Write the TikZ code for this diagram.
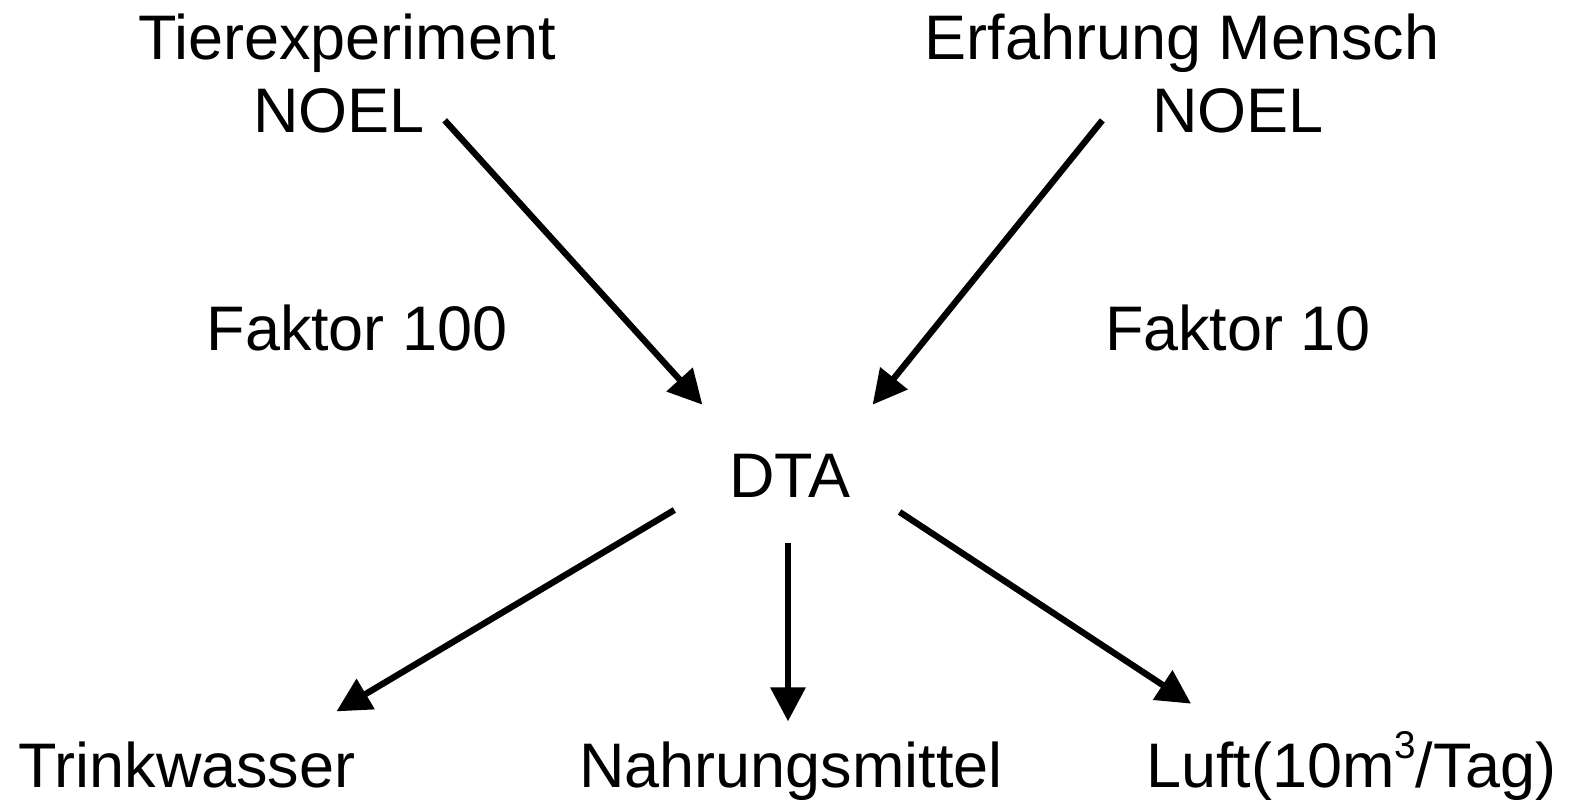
\documentclass[tikz,border=0pt]{standalone}
\usepackage{fontspec}
\setmainfont{Liberation Sans}
\usetikzlibrary{arrows.meta}
\tikzset{
    lbl/.style={inner sep=0pt, outer sep=0pt, anchor=base, font=\fontsize{17.9}{21}\selectfont},
    arr/.style={line width=1.8pt, -{Triangle[length=0.34cm,width=0.34cm]}}
}
\begin{document}
\begin{tikzpicture}[x=0.01cm,y=-0.01cm]
    \useasboundingbox (0,0) rectangle (1569,800);
    % sources
    \node[lbl] (tier)  at (347,60)  {Tierexperiment};
    \node[lbl] (noelA) at (339,132) {NOEL};
    \node[lbl] (erf)   at (1182,60) {Erfahrung Mensch};
    \node[lbl] (noelB) at (1238,132) {NOEL};
    \node[lbl] (fak100) at (357,350) {Faktor 100};
    \node[lbl] (fak10)  at (1238,350) {Faktor 10};
    \node[lbl] (dta)   at (790,497) {DTA};
    % targets
    \node[lbl] (trink) at (187,787) {Trinkwasser};
    \node[lbl] (nahr)  at (791,787) {Nahrungsmittel};
    \node[lbl] (luft)  at (1351,787) {Luft(10m\raisebox{0.45em}{\fontsize{11}{11}\selectfont 3}/Tag)};

    \draw[arr] ([shift={(20,10)}]noelA.east) -- ([shift={(-27,-49)}]dta.north west);
    \draw[arr] ([shift={(-50,10)}]noelB.west) -- ([shift={(22,-49)}]dta.north east);
    \draw[arr] ([shift={(-55,13)}]dta.south west) -- ([shift={(-19,-30)}]trink.north east);
    \draw[arr] ([shift={(-2,46)}]dta.south) -- ([shift={(-3,-20)}]nahr.north);
    \draw[arr] ([shift={(49,15)}]dta.south east) -- ([shift={(45,-28)}]luft.north west);
\end{tikzpicture}
\end{document}
